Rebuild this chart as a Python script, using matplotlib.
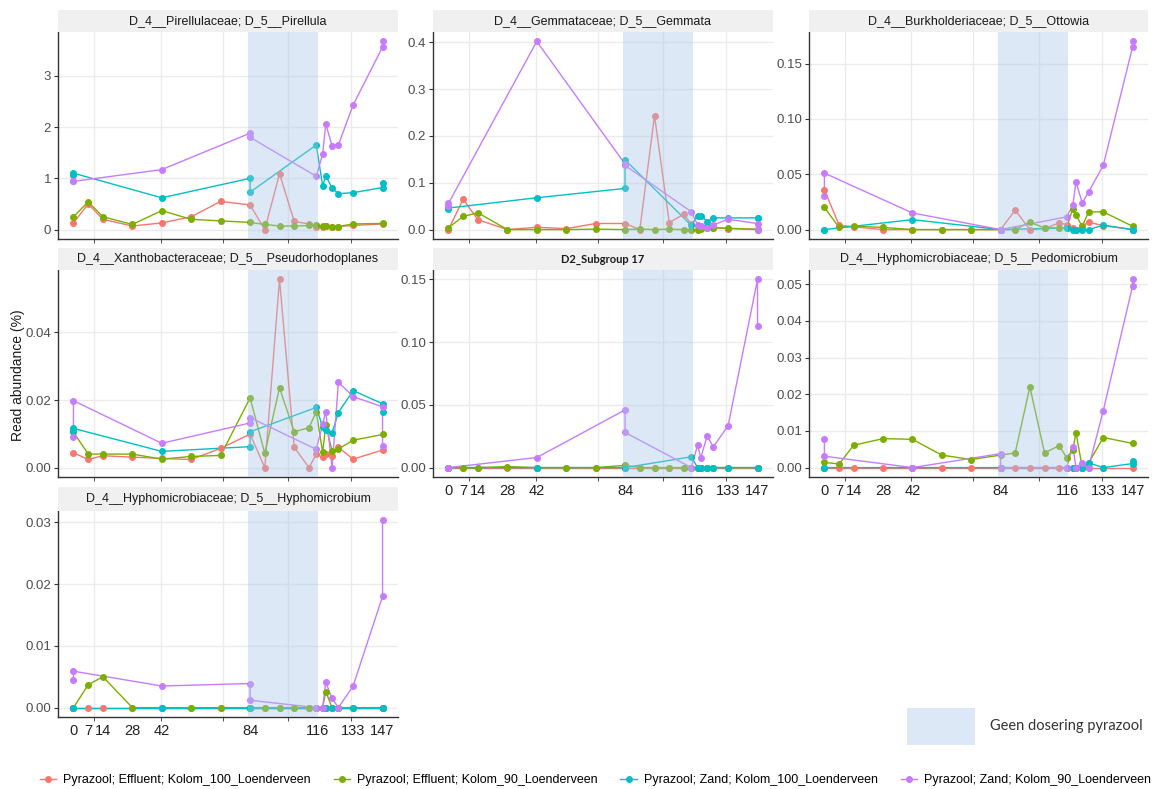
import matplotlib
matplotlib.use("Agg")
import matplotlib.pyplot as plt
from matplotlib.patches import Rectangle
from matplotlib.lines import Line2D

plt.rcParams['font.family'] = ['Liberation Sans', 'DejaVu Sans']

# sample days
DAYS_EFF = [0, 7, 14, 28, 42, 56, 70, 84, 91, 98, 105, 112, 115.5, 118.5, 120, 123, 126, 133, 147]
DAYS_ZAND = [0, 0, 42, 84, 84, 115.5, 118.5, 120, 123, 126, 133, 147, 147]
X_TICK_LABELS = [0, 7, 14, 28, 42, 84, 116, 133, 147]
X_GRID = [10, 41.5, 71, 102.2, 132.2]
SHADE = (83, 116.2)

SERIES = ['Pyrazool; Effluent; Kolom_100_Loenderveen', 'Pyrazool; Effluent; Kolom_90_Loenderveen',
          'Pyrazool; Zand; Kolom_100_Loenderveen', 'Pyrazool; Zand; Kolom_90_Loenderveen']
COLORS = ['#F8766D', '#7CAE00', '#00BFC4', '#C77CFF']

# D_5__Pirellula
pir_eff100 = [0.13, 0.50, 0.20, 0.07, 0.13, 0.25, 0.55, 0.48, 0.00, 1.09, 0.16, 0.11, 0.05, 0.06, 0.07, 0.06, 0.06, 0.08, 0.11]
pir_eff90 = [0.25, 0.54, 0.25, 0.10, 0.37, 0.20, 0.17, 0.14, 0.10, 0.07, 0.07, 0.08, 0.08, 0.07, 0.07, 0.05, 0.06, 0.11, 0.12]
pir_zand100 = [1.06, 1.10, 0.62, 1.00, 0.73, 1.65, 0.85, 1.05, 0.81, 0.70, 0.72, 0.82, 0.90]
pir_zand90 = [0.94, 0.94, 1.17, 1.88, 1.80, 1.04, 1.47, 2.06, 1.63, 1.65, 2.43, 3.56, 3.67]

# D_5__Gemmata
gem_eff100 = [0.0, 0.065, 0.021, 0.0, 0.005, 0.002, 0.013, 0.013, 0.0, 0.243, 0.015, 0.033, 0.011, 0.008, 0.007, 0.005, 0.004, 0.002, 0.001]
gem_eff90 = [0.004, 0.028, 0.036, 0.0, 0.0, 0.0, 0.001, 0.0, 0.001, 0.0, 0.001, 0.0, 0.0, 0.0, 0.002, 0.004, 0.004, 0.003, 0.0]
gem_zand100 = [0.045, 0.046, 0.068, 0.088, 0.149, 0.009, 0.030, 0.030, 0.017, 0.025, 0.025, 0.025, 0.025]
gem_zand90 = [0.050, 0.056, 0.402, 0.140, 0.137, 0.038, 0.010, 0.007, 0.003, 0.010, 0.022, 0.013, 0.0]

# D_5__Ottowia
ott_eff100 = [0.036, 0.004, 0.0025, 0.0, 0.0, 0.0, 0.0, 0.0, 0.0176, 0.0, 0.001, 0.006, 0.0045, 0.001, 0.0, 0.003, 0.0067, 0.0036, 0.0]
ott_eff90 = [0.020, 0.002, 0.003, 0.002, 0.0, 0.0, 0.0, 0.0, 0.0, 0.0067, 0.0015, 0.0015, 0.0015, 0.019, 0.0128, 0.003, 0.016, 0.016, 0.003]
ott_zand100 = [0.0, 0.0, 0.009, 0.0, 0.0, 0.0015, 0.0, 0.0, 0.0, 0.0, 0.004, 0.0, 0.0]
ott_zand90 = [0.030, 0.051, 0.015, 0.0, 0.0, 0.0115, 0.022, 0.043, 0.024, 0.034, 0.058, 0.165, 0.170]

# D_5__Pseudorhodoplanes
pse_eff100 = [0.0044, 0.0024, 0.0035, 0.0031, 0.0027, 0.0024, 0.0057, 0.0099, 0.0, 0.0557, 0.006, 0.0, 0.004, 0.003, 0.004, 0.0035, 0.006, 0.0025, 0.0052]
pse_eff90 = [0.0105, 0.004, 0.004, 0.004, 0.0025, 0.0033, 0.0036, 0.0206, 0.0042, 0.0236, 0.0106, 0.0118, 0.0165, 0.0045, 0.0125, 0.005, 0.0055, 0.0081, 0.0098]
pse_zand100 = [0.0108, 0.0116, 0.0048, 0.0062, 0.0106, 0.0178, 0.012, 0.011, 0.0103, 0.0163, 0.0228, 0.0189, 0.0166]
pse_zand90 = [0.009, 0.0198, 0.0072, 0.0132, 0.0148, 0.0054, 0.0128, 0.0166, 0.0, 0.0253, 0.021, 0.018, 0.0063]

# D2_Subgroup 17
sub_eff100 = [0.0] * 19
sub_eff90 = [0, 0, 0, 0.0008, 0, 0, 0, 0.0018, 0, 0, 0, 0, 0, 0, 0, 0, 0, 0, 0]
sub_zand100 = [0, 0, 0, 0, 0, 0.0086, 0, 0, 0, 0, 0, 0, 0]
sub_zand90 = [0.0, 0.0, 0.008, 0.046, 0.028, 0.0, 0.018, 0.0078, 0.025, 0.0166, 0.0334, 0.150, 0.113]

# D_5__Pedomicrobium
ped_eff100 = [0.0] * 19
ped_eff90 = [0.0014, 0.001, 0.0061, 0.0079, 0.0077, 0.0034, 0.0022, 0.0034, 0.004, 0.022, 0.004, 0.006, 0.0027, 0.0048, 0.0095, 0.0, 0.0012, 0.0082, 0.0066]
ped_zand100 = [0, 0, 0, 0, 0, 0, 0, 0, 0, 0.0013, 0, 0.0011, 0.0018]
ped_zand90 = [0.0077, 0.0031, 0.0, 0.0038, 0.0, 0.0, 0.0057, 0.0, 0.0013, 0.0, 0.0155, 0.0495, 0.0513]

# D_5__Hyphomicrobium
hyp_eff100 = [0.0] * 19
hyp_eff90 = [0, 0.0037, 0.005, 0, 0, 0, 0, 0, 0, 0, 0, 0, 0, 0, 0.0026, 0, 0, 0, 0]
hyp_zand100 = [0.0] * 13
hyp_zand90 = [0.0044, 0.0059, 0.0035, 0.0039, 0.0012, 0.0, 0.0, 0.0041, 0.0015, 0.0, 0.0035, 0.018, 0.0303]

W, H = 1161, 789
COLS = [(58, 398), (433, 773), (809, 1148)]
ROWS = [(10, 32, 239), (248, 270, 477), (487, 511, 717)]

panels = [
    ('D_4__Pirellulaceae; D_5__Pirellula', (pir_eff100, pir_eff90, pir_zand100, pir_zand90),
     [0, 1, 2, 3], '{:.0f}', 0, 0, False),
    ('D_4__Gemmataceae; D_5__Gemmata', (gem_eff100, gem_eff90, gem_zand100, gem_zand90),
     [0.0, 0.1, 0.2, 0.3, 0.4], '{:.1f}', 1, 0, False),
    ('D_4__Burkholderiaceae; D_5__Ottowia', (ott_eff100, ott_eff90, ott_zand100, ott_zand90),
     [0.0, 0.05, 0.10, 0.15], '{:.2f}', 2, 0, False),
    ('D_4__Xanthobacteraceae; D_5__Pseudorhodoplanes', (pse_eff100, pse_eff90, pse_zand100, pse_zand90),
     [0.0, 0.02, 0.04], '{:.2f}', 0, 1, False),
    ('D2_Subgroup 17', (sub_eff100, sub_eff90, sub_zand100, sub_zand90),
     [0.0, 0.05, 0.10, 0.15], '{:.2f}', 1, 1, True),
    ('D_4__Hyphomicrobiaceae; D_5__Pedomicrobium', (ped_eff100, ped_eff90, ped_zand100, ped_zand90),
     [0.0, 0.01, 0.02, 0.03, 0.04, 0.05], '{:.2f}', 2, 1, True),
    ('D_4__Hyphomicrobiaceae; D_5__Hyphomicrobium', (hyp_eff100, hyp_eff90, hyp_zand100, hyp_zand90),
     [0.0, 0.01, 0.02, 0.03], '{:.2f}', 0, 2, True),
]


def box(x0, y0, x1, y1):
    return [x0 / W, 1 - y1 / H, (x1 - x0) / W, (y1 - y0) / H]


fig = plt.figure(figsize=(W / 100, H / 100), dpi=100)

for title, data, yticks, fmt, c, r, xlab in panels:
    x0, x1 = COLS[c]
    s0, s1, y1 = ROWS[r]
    ax = fig.add_axes(box(x0, s1, x1, y1))
    days = [DAYS_EFF, DAYS_EFF, DAYS_ZAND, DAYS_ZAND]
    for d, vals, col in zip(days, data, COLORS):
        ax.plot(d, vals, color=col, lw=1.0, zorder=2)
    for d, vals, col in zip(days, data, COLORS):
        ax.plot(d, vals, ls='none', marker='o', ms=4, color=col, zorder=3)
    ax.axvspan(*SHADE, color='#A9C6E6', alpha=0.4, lw=0, zorder=4)
    ax.set_xlim(-7.35, 154.35)
    ax.margins(y=0.05)
    ax.set_yticks(yticks)
    ax.set_yticklabels([fmt.format(v) for v in yticks])
    ax.set_xticks(X_GRID, minor=True)
    ax.set_xticks(X_TICK_LABELS)
    if xlab:
        ax.set_xticklabels([str(v) for v in X_TICK_LABELS], fontsize=10.5, color='#222222')
    else:
        ax.set_xticklabels([])
    ax.tick_params(axis='x', which='major', length=0, pad=5)
    ax.tick_params(axis='x', which='minor', length=3, color='#333333')
    ax.tick_params(axis='y', length=3, color='#333333', labelsize=9.5, labelcolor='#4D4D4D', pad=2)
    ax.grid(False)
    ax.grid(True, axis='y', which='major', color='#EBEBEB', lw=1, zorder=0)
    ax.grid(True, axis='x', which='minor', color='#EBEBEB', lw=1, zorder=0)
    ax.set_axisbelow(True)
    for side in ('top', 'right'):
        ax.spines[side].set_visible(False)
    for side in ('left', 'bottom'):
        ax.spines[side].set_color('#333333')
        ax.spines[side].set_linewidth(1.0)

    # facet strip
    sx = box(x0, s0, x1, s1)
    fig.patches.append(Rectangle((sx[0], sx[1]), sx[2], sx[3], transform=fig.transFigure,
                                 facecolor='#F0F0F0', edgecolor='none', zorder=0))
    if title.startswith('D2'):
        fig.text(sx[0] + sx[2] / 2, sx[1] + sx[3] / 2, title, ha='center', va='center',
                 fontsize=8, fontweight='bold', family=['Lato', 'DejaVu Sans'], color='#1A1A1A')
    else:
        fig.text(sx[0] + sx[2] / 2, sx[1] + sx[3] / 2, title, ha='center', va='center',
                 fontsize=9, color='#1A1A1A')

fig.text(18 / W, 1 - 375 / H, 'Read abundance (%)', rotation=90, ha='center', va='center',
         fontsize=10, color='#1A1A1A')

# box explaining the shaded period
gb = box(907, 708, 975, 745)
fig.patches.append(Rectangle((gb[0], gb[1]), gb[2], gb[3], transform=fig.transFigure,
                             facecolor='#DCE8F5', edgecolor='none'))
fig.text(990 / W, 1 - 726 / H, 'Geen dosering pyrazool', ha='left', va='center',
         fontsize=10.5, family=['Lato', 'DejaVu Sans'], color='#333333')

handles = [Line2D([], [], color=c, lw=1.0, marker='o', ms=4) for c in COLORS]
fig.legend(handles, SERIES, loc='center', bbox_to_anchor=(0.513, 1 - 780 / H), ncol=4,
           frameon=False, fontsize=9, handlelength=1.3, handletextpad=0.6, columnspacing=1.8)

fig.savefig('out.png', dpi=100)
